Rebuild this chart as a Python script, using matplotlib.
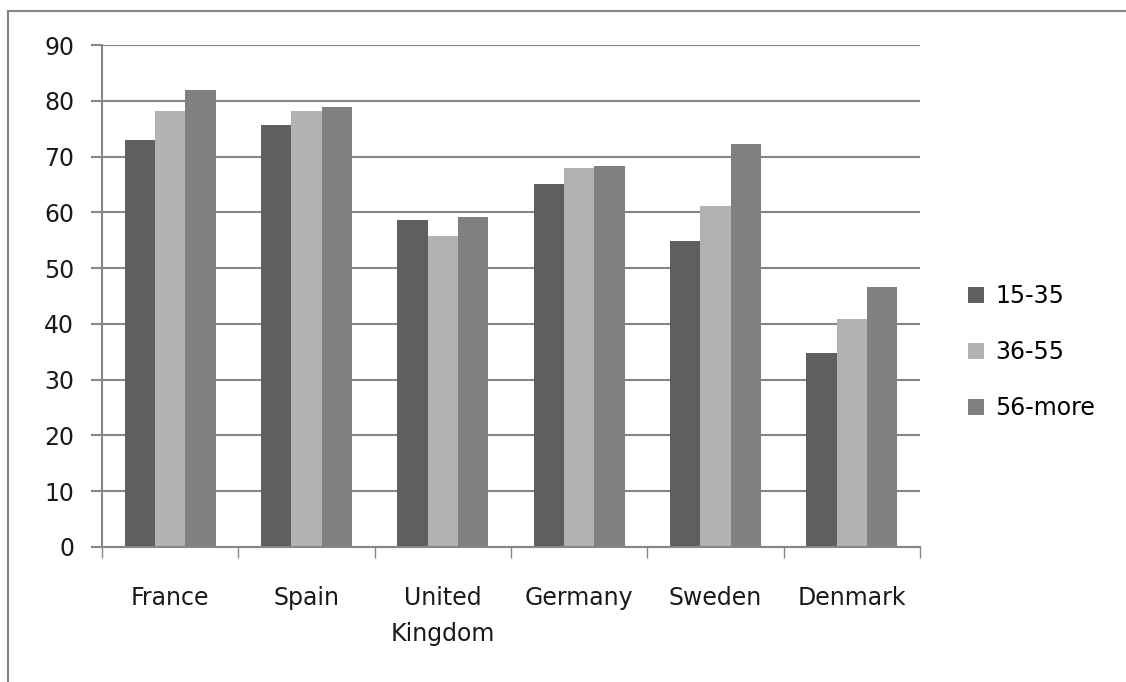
import matplotlib.pyplot as plt
import numpy as np
from matplotlib.lines import Line2D

countries = ["France", "Spain", "United\nKingdom", "Germany", "Sweden", "Denmark"]
age_groups = ["15-35", "36-55", "56-more"]
young = [73, 75.6, 58.6, 65.1, 54.8, 34.8]
middle = [78.1, 78.1, 55.7, 67.9, 61.1, 40.9]
older = [81.9, 78.9, 59.1, 68.3, 72.2, 46.6]
colors = ["#5f5f5f", "#b2b2b2", "#808080"]


def main():
    plt.rcParams["font.family"] = ["DejaVu Sans"]
    fs = 17
    fig = plt.figure(figsize=(11.26, 6.82), dpi=100)
    ax = fig.add_axes([0.0906, 0.198, 0.7265, 0.736])

    x = np.arange(len(countries))
    width = 1 / 4.5
    series = [young, middle, older]
    for i, (vals, name) in enumerate(zip(series, age_groups)):
        ax.bar(x + (i - 1) * width, vals, width, color=colors[i], label=name, zorder=2)

    ax.set_ylim(0, 90)
    ax.set_xlim(-0.5, len(countries) - 0.5)
    ax.set_yticks(range(0, 91, 10))
    ax.yaxis.grid(True, color="#868686", linewidth=1.5, zorder=0)
    ax.set_axisbelow(True)

    # category ticks sit on the group boundaries, labels centred under groups
    ax.set_xticks(np.arange(-0.5, len(countries), 1))
    ax.set_xticklabels([])
    ax.set_xticks(x, minor=True)
    labels = ax.set_xticklabels(countries, minor=True, fontsize=fs, color="#1a1a1a")
    for lab in labels:
        lab.set_linespacing(1.65)
        lab.set_verticalalignment("top")
    ax.tick_params(axis="x", which="minor", length=0, pad=28)
    ax.tick_params(axis="x", which="major", length=8, width=1, color="#868686", direction="out")
    ax.tick_params(axis="y", length=8, width=1.5, color="#868686", labelsize=fs,
                   labelcolor="#1a1a1a", pad=12)

    for side in ["top", "right"]:
        ax.spines[side].set_visible(False)
    ax.spines["left"].set_color("#868686")
    ax.spines["bottom"].set_color("#868686")
    ax.spines["left"].set_linewidth(1.5)
    ax.spines["bottom"].set_linewidth(1.5)

    ax.legend(loc="center left", bbox_to_anchor=(1.059, 0.388), frameon=False,
              fontsize=fs, handlelength=0.65, handleheight=0.65, handletextpad=0.5,
              labelspacing=1.35, borderaxespad=0, borderpad=0)

    # outer chart border (top and left edges)
    fig.add_artist(Line2D([8 / 1126, 1], [1 - 11 / 682, 1 - 11 / 682],
                          transform=fig.transFigure, color="#868686", linewidth=1.5))
    fig.add_artist(Line2D([8 / 1126, 8 / 1126], [0, 1 - 11 / 682],
                          transform=fig.transFigure, color="#868686", linewidth=1.5))

    fig.savefig("out.png", dpi=100)


if __name__ == "__main__":
    main()
